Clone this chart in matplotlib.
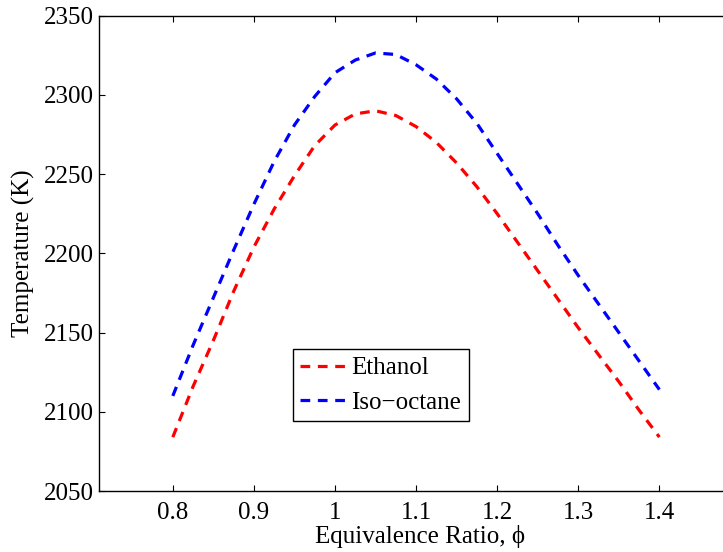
import matplotlib
matplotlib.use("Agg")
import matplotlib.pyplot as plt

phi = [0.800, 0.825, 0.850, 0.875, 0.900, 0.925, 0.950, 0.975, 1.000, 1.025,
       1.050, 1.075, 1.100, 1.125, 1.150, 1.175, 1.200, 1.225, 1.250, 1.275,
       1.300, 1.325, 1.350, 1.375, 1.400]
ethanol = [2084, 2116, 2145, 2176, 2204, 2228, 2249, 2268, 2281, 2288,
           2290, 2287, 2280, 2270, 2257, 2242, 2225, 2207, 2189, 2171,
           2153, 2136, 2119, 2101, 2084]
isooctane = [2110, 2142, 2172, 2202, 2231, 2258, 2281, 2299, 2314, 2322,
             2326.5, 2325.5, 2319, 2310, 2297.5, 2282, 2263, 2244, 2225, 2205,
             2186, 2168, 2150, 2132, 2114]
xticks = [0.8, 0.9, 1.0, 1.1, 1.2, 1.3, 1.4]
xticklabels = ["0.8", "0.9", "1", "1.1", "1.2", "1.3", "1.4"]
yticks = [2050, 2100, 2150, 2200, 2250, 2300, 2350]

plt.rcParams['font.family'] = ['Liberation Serif', 'DejaVu Serif']
plt.rcParams['lines.scale_dashes'] = False

W, H = 723, 552
fig = plt.figure(figsize=(W / 100, H / 100), dpi=100)
left, bottom_px, top_px = 99, 491, 15.7
xmin, xmax = 0.709, 1.5
pxu = 811.0
width_px = (xmax - xmin) * pxu
ax = fig.add_axes([left / W, (H - bottom_px) / H, width_px / W, (bottom_px - top_px) / H])

ax.plot(phi, ethanol, color='#ff0000', lw=2.3, dashes=(7, 5.5), label='Ethanol')
ax.plot(phi, isooctane, color='#0000ff', lw=2.3, dashes=(7, 5.5), label='Iso\u2212octane')

ax.set_xlim(xmin, xmax)
ax.set_ylim(2050, 2350)
ax.set_xticks(xticks)
ax.set_xticklabels(xticklabels)
ax.set_yticks(yticks)
ax.tick_params(direction='in', length=4.3, width=0.8, labelsize=18, top=True, right=True)
ax.tick_params(axis='x', pad=8)
ax.tick_params(axis='y', pad=4)
for s in ax.spines.values():
    s.set_linewidth(1.0)

ax.set_xlabel('Equivalence Ratio, \u03d5', fontsize=18, labelpad=1)
ax.set_ylabel('Temperature (K)', fontsize=18, labelpad=6)

leg = ax.legend(loc='upper left', bbox_to_anchor=((292.7 - left) / width_px, (bottom_px - 349.3) / (bottom_px - top_px)),
                borderaxespad=0, fontsize=18, handlelength=1.8, handletextpad=0.25,
                labelspacing=0.47, borderpad=0.3, fancybox=False, framealpha=1)
leg.get_frame().set_edgecolor('black')
leg.get_frame().set_linewidth(1.0)

fig.savefig('out.png', dpi=100)
